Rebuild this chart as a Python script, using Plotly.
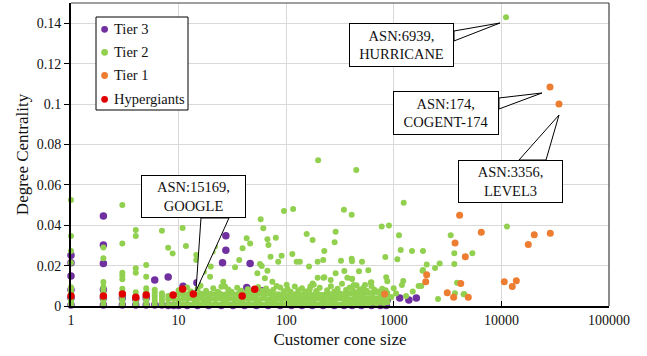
import plotly.graph_objects as go

# ---------------- data ----------------
# Tier 3 (purple)
tier3_x = [1, 1, 1, 2, 2, 2, 6, 8, 11, 14.8, 27.5, 27.5, 25.6, 46.2, 43, 60,
           870, 1135, 1380, 1620,
           1, 1, 1, 2, 2, 2, 3, 3, 4, 4, 5, 5, 6, 7,
           8, 9, 10, 12, 15, 19, 25, 32, 41, 53, 68, 88, 112, 140, 175, 220,
           280, 345, 410, 500, 620, 750, 850]
tier3_y = [0.0251, 0.0214, 0.0149, 0.0446, 0.0302, 0.0211, 0.0129, 0.0144, 0.0098, 0.0115,
           0.0348, 0.0276, 0.0214, 0.0211, 0.0091, 0.0075,
           0.0030, 0.0040, 0.0030, 0.0040,
           0.0005, 0.0040, 0.0080, 0.0005, 0.0040, 0.0080, 0.0005, 0.0040, 0.0005, 0.0035,
           0.0005, 0.0040, 0.0005, 0.0005,
           0.0002, 0.0003, 0.0002, 0.0003, 0.0002, 0.0003, 0.0002, 0.0003, 0.0002, 0.0003,
           0.0002, 0.0003, 0.0002, 0.0003, 0.0002, 0.0003, 0.0002, 0.0003, 0.0002, 0.0003,
           0.0002, 0.0003, 0.0002]

# Tier 2 (green) - isolated points
tier2_sparse_x = [11040, 198, 448, 1236, 344, 406, 771, 902, 1117, 288, 282, 226, 1159, 1476,
                  1868, 834, 1079, 323, 406, 409, 506, 221, 2667, 2022, 2417, 1868, 3650, 3650,
                  3380, 5370, 11270, 347, 475, 580, 226, 288, 409, 850, 870, 1224, 1700, 1800,
                  3870, 4520, 2576, 3700, 998, 610, 259, 4450, 155, 176, 134, 196, 163, 196, 222,
                  1, 1, 1, 1, 2, 2, 2, 3, 3, 3, 3, 3, 4, 4, 4, 4, 5, 5, 7, 8, 8.8,
                  10.9, 11.7, 14.6, 14.6, 20.7, 21.8, 19.9, 17.2, 19.6, 26, 27, 33.5, 36.6,
                  39.3, 42.9, 46.2, 57.9, 61.3, 66.9, 68.4, 80.1, 71.6, 57, 59.3, 53.9, 66.9,
                  63.4, 74.4, 81.5, 84.3, 90.6, 95.3, 116, 114, 125, 101]
tier2_sparse_y = [0.1430, 0.0721, 0.0673, 0.0511, 0.0477, 0.0452, 0.0393, 0.0398, 0.0350, 0.0368,
                  0.0315, 0.0272, 0.0277, 0.0272, 0.0272, 0.0243, 0.0231, 0.0224, 0.0234, 0.0221,
                  0.0219, 0.0228, 0.0211, 0.0206, 0.0188, 0.0178, 0.0208, 0.0261, 0.0350, 0.0261,
                  0.0393, 0.0173, 0.0172, 0.0177, 0.0142, 0.0162, 0.0135, 0.0142, 0.0122, 0.0124,
                  0.0099, 0.0099, 0.0115, 0.0059, 0.0035, 0.0063, 0.0088, 0.0115, 0.0129, 0.0058,
                  0.0356, 0.0327, 0.0219, 0.0219, 0.0195, 0.0140, 0.0140,
                  0.0525, 0.0347, 0.0272, 0.0214, 0.0290, 0.0236, 0.0119, 0.0500, 0.0310, 0.0165,
                  0.0150, 0.0132, 0.0376, 0.0347, 0.0187, 0.0165, 0.0203, 0.0145, 0.0373, 0.0288,
                  0.0260,
                  0.0386, 0.0297, 0.0252, 0.0228, 0.0269, 0.0294, 0.0195, 0.0170, 0.0145, 0.0120,
                  0.0096, 0.0192, 0.0228, 0.0286, 0.0335, 0.0310, 0.0429, 0.0385, 0.0330, 0.0302,
                  0.0338, 0.0244, 0.0208, 0.0198, 0.0162, 0.0175, 0.0137, 0.0120, 0.0099, 0.0219,
                  0.0249, 0.0470, 0.0480, 0.0257, 0.0219, 0.0105]

# Tier 2 - stacked points at small integer cone sizes
tier2_stack_x = [1, 1, 1, 1, 1, 1, 1, 2, 2, 2, 2, 2, 2, 2, 3, 3, 3, 3, 3, 3,
                 4, 4, 4, 4, 4, 5, 5, 5, 5, 5, 5, 6, 6, 6, 6, 6, 6, 7, 7, 7, 7, 7]
tier2_stack_y = [0.0005, 0.0020, 0.0035, 0.0050, 0.0065, 0.0080, 0.0093,
                 0.0005, 0.0020, 0.0035, 0.0050, 0.0065, 0.0080, 0.0095,
                 0.0005, 0.0020, 0.0035, 0.0050, 0.0065, 0.0085,
                 0.0005, 0.0020, 0.0035, 0.0050, 0.0068,
                 0.0005, 0.0020, 0.0035, 0.0050, 0.0068, 0.0088,
                 0.0005, 0.0020, 0.0035, 0.0050, 0.0065, 0.0080,
                 0.0005, 0.0020, 0.0035, 0.0050, 0.0063]

# Tier 2 - dense band near zero
band_x = [8, 9, 10, 11, 12, 13, 14, 15, 16, 17, 18, 19, 20, 22, 24, 26, 28, 30, 33, 36,
          39, 42, 45, 49, 53, 57, 62, 67, 72, 78, 84, 91, 98, 106, 115, 124, 134, 145, 157, 170,
          184, 199, 215, 232, 251, 271, 293, 317, 342, 370, 400, 432, 467, 505, 546, 590, 638,
          690, 746, 806, 871]
band_y_low = [0.0008, 0.0006, 0.0010, 0.0007, 0.0009, 0.0005, 0.0011, 0.0008, 0.0006, 0.0010,
              0.0007, 0.0009, 0.0006, 0.0011, 0.0008, 0.0007, 0.0010, 0.0006, 0.0009, 0.0008,
              0.0011, 0.0007, 0.0009, 0.0006, 0.0010, 0.0008, 0.0007, 0.0011, 0.0009, 0.0006,
              0.0008, 0.0010, 0.0007, 0.0009, 0.0006, 0.0011, 0.0008, 0.0007, 0.0010, 0.0009,
              0.0006, 0.0008, 0.0011, 0.0007, 0.0009, 0.0010, 0.0006, 0.0008, 0.0007, 0.0011,
              0.0009, 0.0012, 0.0014, 0.0010, 0.0015, 0.0012, 0.0016, 0.0013, 0.0017, 0.0015, 0.0018]
band_y_mid = [0.0032, 0.0035, 0.0030, 0.0036, 0.0033, 0.0038, 0.0031, 0.0034, 0.0037, 0.0032,
              0.0035, 0.0030, 0.0036, 0.0033, 0.0038, 0.0031, 0.0034, 0.0036, 0.0032, 0.0035,
              0.0030, 0.0037, 0.0033, 0.0036, 0.0031, 0.0034, 0.0038, 0.0032, 0.0035, 0.0030,
              0.0036, 0.0033, 0.0037, 0.0031, 0.0034, 0.0038, 0.0032, 0.0035, 0.0030, 0.0036,
              0.0033, 0.0037, 0.0031, 0.0034, 0.0036, 0.0032, 0.0035, 0.0038, 0.0033, 0.0036,
              0.0034, 0.0037, 0.0039, 0.0035, 0.0040, 0.0036, 0.0041, 0.0038, 0.0042, 0.0039, 0.0043]
band_y_high = [0.0050, 0.0054, 0.0057, 0.0061, 0.0058, 0.0063, 0.0060, 0.0056, 0.0062, 0.0059,
               0.0064, 0.0057, 0.0061, 0.0058, 0.0063, 0.0056, 0.0060, 0.0062, 0.0057, 0.0061,
               0.0059, 0.0063, 0.0056, 0.0060, 0.0058, 0.0062, 0.0057, 0.0061, 0.0059, 0.0055,
               0.0058, 0.0054, 0.0057, 0.0053, 0.0056, 0.0059, 0.0055, 0.0058, 0.0054, 0.0057,
               0.0055, 0.0058, 0.0054, 0.0057, 0.0060, 0.0056, 0.0059, 0.0062, 0.0058, 0.0061,
               0.0063, 0.0060, 0.0065, 0.0062, 0.0067, 0.0064, 0.0066, 0.0069, 0.0065, 0.0068, 0.0064]

# Tier 2 - loose points just above the band
fuzz_x = [10, 12, 13, 15, 16, 18, 21, 23, 25, 29, 31, 35, 38, 44, 48, 55, 60, 65, 70, 76, 88,
          95, 103, 110, 120, 130, 140, 150, 165, 180, 190, 205, 240, 260, 280, 300, 330, 360,
          390, 420, 450, 480, 520, 560, 620, 660, 720, 780, 840, 950, 1050, 1300, 1500,
          176, 168, 424, 540, 618, 1190, 1850, 370, 410]
fuzz_y = [0.0078, 0.0092, 0.0072, 0.0085, 0.0100, 0.0075, 0.0088, 0.0070, 0.0095, 0.0082,
          0.0071, 0.0090, 0.0076, 0.0083, 0.0070, 0.0094, 0.0074, 0.0087, 0.0071, 0.0080,
          0.0091, 0.0073, 0.0084, 0.0070, 0.0096, 0.0078, 0.0088, 0.0072, 0.0082, 0.0105,
          0.0074, 0.0090, 0.0078, 0.0098, 0.0072, 0.0086, 0.0110, 0.0079, 0.0092, 0.0075,
          0.0103, 0.0082, 0.0089, 0.0076, 0.0098, 0.0080, 0.0072, 0.0086, 0.0078, 0.0045,
          0.0062, 0.0050, 0.0072,
          0.0112, 0.0096, 0.0104, 0.0104, 0.0117, 0.0104, 0.0175, 0.0140, 0.0134]

# Tier 1 (orange)
tier1_x = [28300, 34300, 4090, 6500, 3710, 4620, 2020, 1980, 822, 3140, 3600, 4190, 4920,
           10640, 12620, 13760, 17780, 20200, 28460]
tier1_y = [0.1084, 0.1000, 0.0449, 0.0365, 0.0312, 0.0244, 0.0155, 0.0120, 0.0059, 0.0066,
           0.0043, 0.0112, 0.0043, 0.0120, 0.0096, 0.0125, 0.0305, 0.0353, 0.0360]

# Hypergiants (red)
hyper_x = [1, 2, 3, 4, 5, 8.9, 10.9, 13.7, 39, 51]
hyper_y = [0.0050, 0.0050, 0.0060, 0.0043, 0.0054, 0.0054, 0.0084, 0.0059, 0.0050, 0.0083]

x_tickvals = [1, 10, 100, 1000, 10000, 100000]
x_ticktext = ["1", "10", "100", "1000", "10000", "100000"]

series_names = ["Tier 3", "Tier 2", "Tier 1", "Hypergiants"]
series_colors = ["#7030A0", "#92D050", "#ED7D31", "#E00000"]

callout_texts = ["ASN:6939,<br>HURRICANE", "ASN:174,<br>COGENT-174",
                 "ASN:3356,<br>LEVEL3", "ASN:15169,<br>GOOGLE"]

# ---------------- assemble ----------------
tier2_x = tier2_sparse_x + tier2_stack_x + band_x * 3 + fuzz_x
tier2_y = tier2_sparse_y + tier2_stack_y + band_y_low + band_y_mid + band_y_high + fuzz_y

FONT = "Liberation Serif"
W, H = 647, 356
L, R, T, B = 71, 38, 3, 50
PW, PH = W - L - R, H - T - B


def ppx(x):
    return (x - L) / PW


def ppy(y):
    return (H - B - y) / PH


fig = go.Figure()
series_data = [(tier3_x, tier3_y, 7.5), (tier2_x, tier2_y, 6),
               (tier1_x, tier1_y, 7), (hyper_x, hyper_y, 7.5)]
for name, col, (xs, ys, sz) in zip(series_names, series_colors, series_data):
    fig.add_trace(go.Scatter(
        x=xs, y=ys, mode="markers", name=name, showlegend=False,
        marker=dict(color=col, size=sz, line=dict(width=0)),
        cliponaxis=False,
    ))

shapes = []
annotations = []

# callout boxes (pixel geometry -> paper)
boxes = [
    dict(box=(349, 23, 454, 67), base=((454, 31), (454, 41)), tip=(500, 23)),
    dict(box=(393, 91, 499, 135), base=((499, 98), (499, 109)), tip=(542, 93)),
    dict(box=(458, 160, 563, 203), base=((519, 160), (546, 160)), tip=(559, 115)),
    dict(box=(141, 175, 246, 218), base=((201, 218), (229, 218)), tip=(196, 291)),
]
for b, txt in zip(boxes, callout_texts):
    (a, c), (d, e) = b["base"]
    tx, ty = b["tip"]
    path = "M {:.4f},{:.4f} L {:.4f},{:.4f} L {:.4f},{:.4f} Z".format(
        ppx(a), ppy(c), ppx(tx), ppy(ty), ppx(d), ppy(e))
    shapes.append(dict(type="path", path=path, xref="paper", yref="paper",
                       fillcolor="white", line=dict(color="black", width=1), layer="above"))
    x0, y0, x1, y1 = b["box"]
    annotations.append(dict(
        x=ppx((x0 + x1) / 2), y=ppy((y0 + y1) / 2), xref="paper", yref="paper",
        xanchor="center", yanchor="middle", text=txt, showarrow=False,
        font=dict(family=FONT, size=14.5, color="#111"),
        bgcolor="white", bordercolor="black", borderwidth=1, borderpad=0,
        width=x1 - x0 - 2, height=y1 - y0 - 2, align="center",
    ))

# legend box (drawn as shapes + text)
LG_BOX = (96, 17, 188, 110)
LG_ROWS = [29.3, 52.3, 75.5, 99.3]
shapes.append(dict(type="rect", xref="paper", yref="paper",
                   x0=ppx(LG_BOX[0]), x1=ppx(LG_BOX[2]), y0=ppy(LG_BOX[3]), y1=ppy(LG_BOX[1]),
                   fillcolor="white", line=dict(color="black", width=1), layer="above"))
for name, col, ry in zip(series_names, series_colors, LG_ROWS):
    r = 3.4
    shapes.append(dict(type="circle", xref="paper", yref="paper",
                       x0=ppx(104.6 - r), x1=ppx(104.6 + r), y0=ppy(ry + r), y1=ppy(ry - r),
                       fillcolor=col, line=dict(width=0), layer="above"))
    annotations.append(dict(
        x=ppx(112), y=ppy(ry), xref="paper", yref="paper", xanchor="left", yanchor="middle",
        text=name, showarrow=False, font=dict(family=FONT, size=14.5, color="#111"),
    ))

# top/right frame lines
shapes.append(dict(type="line", xref="paper", yref="paper", x0=0, x1=1, y0=1, y1=1,
                   line=dict(color="#404040", width=1.2), layer="above"))
shapes.append(dict(type="line", xref="paper", yref="paper", x0=1, x1=1, y0=0, y1=1,
                   line=dict(color="#404040", width=1.2), layer="above"))

fig.update_layout(
    width=W, height=H,
    margin=dict(l=L, r=R, t=T, b=B, autoexpand=False),
    paper_bgcolor="white", plot_bgcolor="white",
    font=dict(family=FONT, size=14, color="#111"),
    showlegend=False,
    shapes=shapes, annotations=annotations,
    xaxis=dict(type="log", range=[0, 5], tickvals=x_tickvals, ticktext=x_ticktext,
               showgrid=True, gridcolor="#d9d9d9", gridwidth=1,
               showline=True, linecolor="black", linewidth=2,
               ticks="inside", ticklen=5, tickcolor="black",
               tickfont=dict(family=FONT, size=14, color="#111"),
               title=dict(text="Customer cone size", font=dict(family=FONT, size=17, color="#111"),
                          standoff=6),
               zeroline=False, automargin=False),
    yaxis=dict(range=[0, 0.15], dtick=0.02, tick0=0,
               showgrid=True, gridcolor="#d9d9d9", gridwidth=1,
               showline=True, linecolor="black", linewidth=2,
               ticks="outside", ticklen=5, tickcolor="black",
               tickfont=dict(family=FONT, size=14, color="#111"),
               title=dict(text="Degree Centrality", font=dict(family=FONT, size=17, color="#111"),
                          standoff=4),
               zeroline=False, automargin=False),
)

fig.write_html("out.html", config={"displayModeBar": False},
               post_script="document.body.style.margin='0';document.body.style.padding='0';")
